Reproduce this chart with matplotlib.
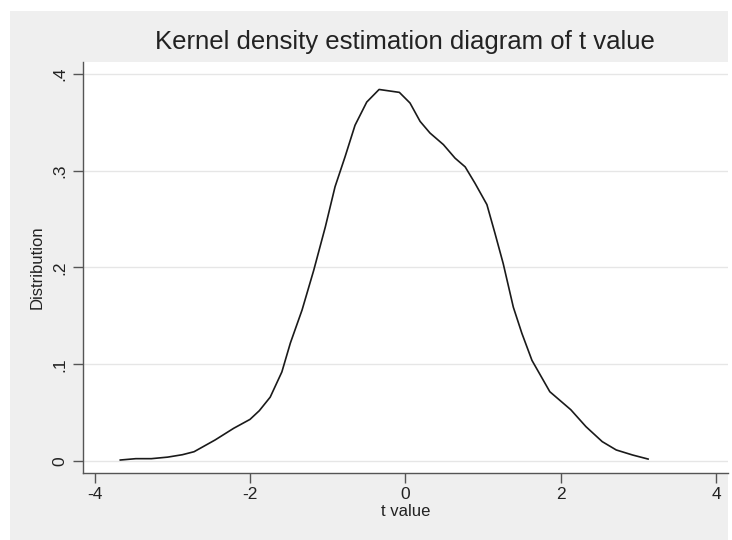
import matplotlib
matplotlib.use("Agg")
import matplotlib.pyplot as plt
from matplotlib.patches import Rectangle

# t value grid and kernel density
t_vals = [-3.67, -3.47, -3.27, -3.06, -2.87, -2.72, -2.45, -2.21, -2.00, -1.88,
          -1.74, -1.59, -1.48, -1.33, -1.18, -1.03, -0.905, -0.776, -0.648,
          -0.497, -0.338, -0.077, 0.06, 0.19, 0.317, 0.49, 0.64, 0.77, 0.897,
          1.05, 1.155, 1.26, 1.39, 1.50, 1.63, 1.86, 2.13, 2.325, 2.535,
          2.715, 2.925, 3.125]
density = [0.001, 0.0024, 0.0024, 0.004, 0.0065, 0.0096, 0.0217, 0.0338, 0.043,
           0.052, 0.066, 0.092, 0.122, 0.156, 0.197, 0.242, 0.2835, 0.3145,
           0.347, 0.371, 0.384, 0.381, 0.370, 0.351, 0.339, 0.327, 0.313,
           0.304, 0.287, 0.265, 0.235, 0.204, 0.159, 0.132, 0.104, 0.0716,
           0.053, 0.0355, 0.020, 0.0114, 0.0062, 0.002]

x_ticks = [-4, -2, 0, 2, 4]
y_ticks = [0, 0.1, 0.2, 0.3, 0.4]
y_tick_labels = ["0", ".1", ".2", ".3", ".4"]

plt.rcParams['font.family'] = ['Liberation Sans', 'DejaVu Sans']

W, H = 732, 540
fig = plt.figure(figsize=(W / 100, H / 100), dpi=100, facecolor="white")

# stata-style grey outer region
fig.patches.append(Rectangle((10 / W, 0), (728 - 10) / W, 1 - 11 / H,
                             transform=fig.transFigure, facecolor="#efefef",
                             edgecolor="none", zorder=-10))

ax = fig.add_axes([83 / W, 1 - 472.7 / H, (727.7 - 83) / W, (472.7 - 61.7) / H])
ax.set_zorder(5)
ax.set_facecolor("white")

ax.plot(t_vals, density, color="#1a1a1a", linewidth=1.2)

ax.set_xlim(-4.15, 4.15)
ax.set_ylim(-0.0121, 0.4127)
ax.set_xticks(x_ticks)
ax.set_xticklabels([str(v) for v in x_ticks])
ax.set_yticks(y_ticks)
ax.set_yticklabels(y_tick_labels, rotation=90, va="center")

ax.grid(axis="y", color="#e6e6e6", linewidth=1.0)
ax.set_axisbelow(True)

for side in ["top", "right"]:
    ax.spines[side].set_visible(False)
for side in ["left", "bottom"]:
    ax.spines[side].set_color("#555555")
    ax.spines[side].set_linewidth(1.0)

ax.tick_params(axis="both", colors="#555555", labelcolor="#222222",
               labelsize=12.5, length=7, width=1.0)
ax.tick_params(axis="y", pad=4)
ax.tick_params(axis="x", pad=3)

ax.set_xlabel("t value", fontsize=12, color="#222222", labelpad=2)
ax.set_ylabel("Distribution", fontsize=12, color="#222222", labelpad=6)
ax.set_title("Kernel density estimation diagram of t value", fontsize=18.5,
             color="#222222", pad=9)

fig.savefig("out.png", dpi=100, facecolor=fig.get_facecolor())
